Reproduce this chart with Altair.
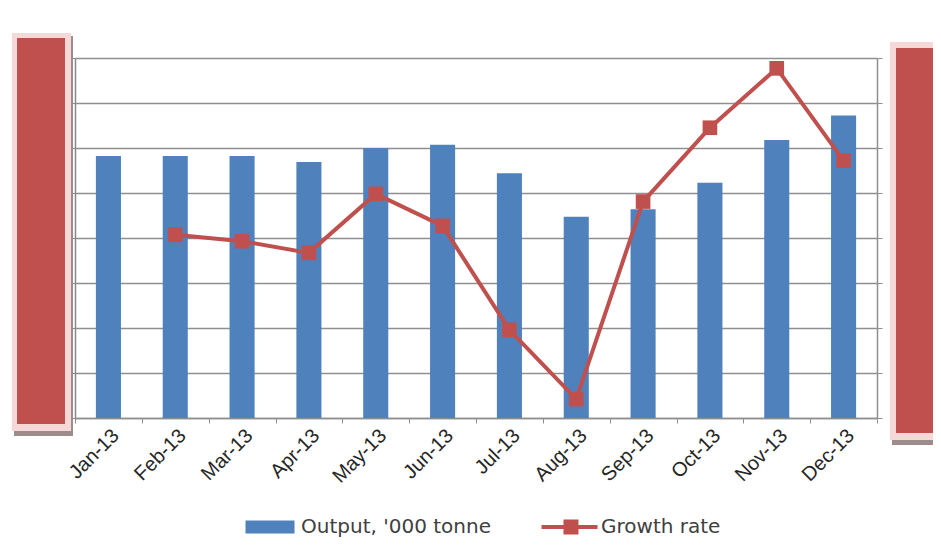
import altair as alt
import pandas as pd

months = ["Jan-13", "Feb-13", "Mar-13", "Apr-13", "May-13", "Jun-13",
          "Jul-13", "Aug-13", "Sep-13", "Oct-13", "Nov-13", "Dec-13"]
output = [5.82, 5.82, 5.82, 5.69, 6.00, 6.07, 5.44, 4.47, 4.64, 5.23, 6.18, 6.72]
growth = [None, 4.07, 3.93, 3.67, 4.98, 4.27, 1.96, 0.42, 4.81, 6.45, 7.77, 5.72]
y_ticks = [0, 1, 2, 3, 4, 5, 6, 7, 8]

BLUE = "#4F81BD"
RED = "#C0504D"
GRID = "#8f8f8f"

df = pd.DataFrame({
    "month": months,
    "output": output,
    "growth": growth,
    "s_out": ["Output, '000 tonne"] * len(months),
    "s_gr": ["Growth rate"] * len(months),
})

W, H = 802, 360

xenc = alt.X("month:N", sort=months, title=None,
             scale=alt.Scale(paddingInner=0, paddingOuter=0),
             axis=alt.Axis(labelAngle=-45, labelFont="Liberation Sans", labelFontSize=20,
                           labelColor="#262626", tickBand="extent", tickColor=GRID,
                           tickSize=5, domainColor=GRID, domainWidth=1.5,
                           labelPadding=2, grid=False))

bars = alt.Chart(df).mark_bar(width=alt.RelativeBandSize(0.375)).encode(
    x=xenc,
    y=alt.Y("output:Q", title=None, scale=alt.Scale(domain=[0, 8], nice=False),
            axis=alt.Axis(labels=False, values=y_ticks,
                          grid=True, gridColor=GRID, gridWidth=1.5, tickColor=GRID,
                          tickSize=5, domainColor=GRID, domainWidth=1.5)),
    fill=alt.Fill("s_out:N", scale=alt.Scale(domain=["Output, '000 tonne"], range=[BLUE]),
                  legend=alt.Legend(title=None, orient="none", legendX=167, legendY=459,
                                    symbolType="M-1,-1H6.54V1H-1Z", symbolSize=169,
                                    symbolStrokeWidth=0, labelOffset=39, padding=0,
                                    labelLimit=400,
                                    labelFont="DejaVu Sans", labelFontSize=20,
                                    labelColor="#404040")),
)

gbase = alt.Chart(df)
line = gbase.mark_line(strokeWidth=4).encode(
    x=alt.X("month:N", sort=months),
    y=alt.Y("growth:Q", title=None, scale=alt.Scale(domain=[0, 8], nice=False),
            axis=alt.Axis(orient="right", labels=False, values=y_ticks,
                          grid=False, tickColor=GRID, tickSize=5, domainColor=GRID,
                          domainWidth=1.5)),
    stroke=alt.Stroke("s_gr:N", scale=alt.Scale(domain=["Growth rate"], range=[RED]),
                      legend=alt.Legend(title=None, orient="none", legendX=464, legendY=459,
                                        symbolType="M-1,-0.267H6.47V0.267H-1Z M1.93,-1H3.93V1H1.93Z",
                                        symbolSize=225, symbolFillColor=RED,
                                        symbolStrokeWidth=0, labelOffset=42, padding=0,
                                        labelLimit=400,
                                        labelFont="DejaVu Sans", labelFontSize=20,
                                        labelColor="#404040")),
)
pts = gbase.mark_square(size=215, opacity=1, fill=RED).encode(
    x=alt.X("month:N", sort=months),
    y=alt.Y("growth:Q", scale=alt.Scale(domain=[0, 8], nice=False)),
)

deco = pd.DataFrame({"k": [0]})
def box(x1, x2, y1, y2, color):
    return alt.Chart(deco).mark_rect(color=color).encode(
        x=alt.value(x1), x2=alt.value(x2), y=alt.value(y1), y2=alt.value(y2))

boxes = alt.layer(
    box(-61, -2, -22, 378, "#9c8c8c"),
    box(-63, -4, -25, 373, "#f6d8d6"),
    box(-58, -10, -20, 366, RED),
    box(817, 870, -12, 387, "#9c8c8c"),
    box(815, 870, -16, 382, "#f6d8d6"),
    box(821, 870, -10, 375, RED),
)

chart = alt.layer(bars, line, pts, boxes).resolve_scale(
    y="independent", fill="independent", stroke="independent"
).properties(
    width=W, height=H,
    autosize=alt.AutoSizeParams(type="none"),
    padding={"left": 67, "top": 50, "right": 56, "bottom": 119},
    background="white",
).configure_view(stroke=None)

chart.save("out.html", embed_options={"renderer": "svg", "actions": False})
